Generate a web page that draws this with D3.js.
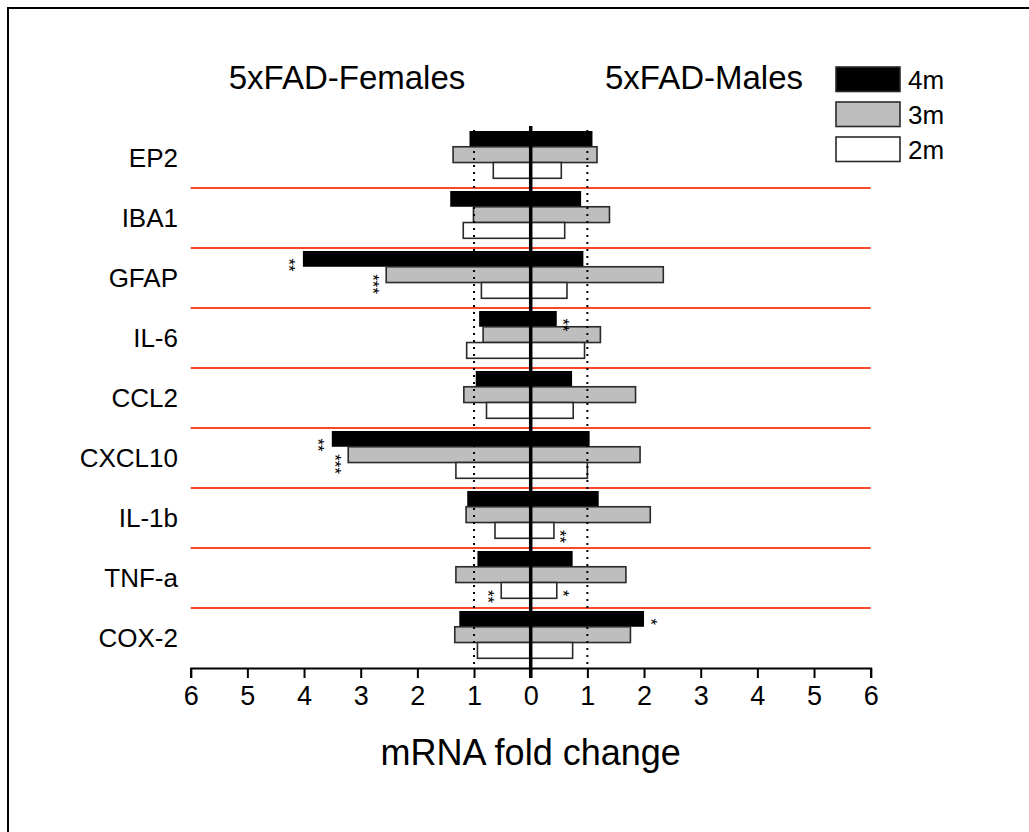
<!DOCTYPE html>
<html>
<head>
    <title></title>
    <script src="https://d3js.org/d3.v7.min.js" charset="utf-8"></script>
    <style>
        body { margin: 0; background: #fff; }
        text { font-family: "Liberation Sans", Arial, sans-serif; fill: #000; }
    </style>
</head>
<body>
<div id='chart'></div>
<script type="text/javascript">
    // genes, top to bottom
    var categories = ["EP2", "IBA1", "GFAP", "IL-6", "CCL2", "CXCL10", "IL-1b", "TNF-a", "COX-2"]
    var ages = ["4m", "3m", "2m"]
    var ageFill = {"4m": "#000", "3m": "#bebebe", "2m": "#fff"}

    // fold change (females are drawn to the left)
    var females4m = [1.08, 1.42, 4.02, 0.91, 0.97, 3.51, 1.12, 0.94, 1.26]
    var females3m = [1.37, 1.01, 2.55, 0.84, 1.18, 3.22, 1.14, 1.32, 1.34]
    var females2m = [0.66, 1.19, 0.87, 1.13, 0.78, 1.32, 0.63, 0.52, 0.94]
    var males4m = [1.09, 0.89, 0.93, 0.46, 0.73, 1.04, 1.20, 0.74, 2.00]
    var males3m = [1.17, 1.39, 2.34, 1.23, 1.85, 1.93, 2.11, 1.68, 1.76]
    var males2m = [0.54, 0.60, 0.64, 0.95, 0.75, 1.00, 0.41, 0.46, 0.74]

    var tickValues = [-6, -5, -4, -3, -2, -1, 0, 1, 2, 3, 4, 5, 6]

    // significance marks
    var stars = [
        {gene: "GFAP", age: "4m", sex: "F", mark: "**"},
        {gene: "GFAP", age: "3m", sex: "F", mark: "***"},
        {gene: "IL-6", age: "4m", sex: "M", mark: "**"},
        {gene: "CXCL10", age: "4m", sex: "F", mark: "**"},
        {gene: "CXCL10", age: "3m", sex: "F", mark: "***"},
        {gene: "IL-1b", age: "2m", sex: "M", mark: "**"},
        {gene: "TNF-a", age: "2m", sex: "F", mark: "**"},
        {gene: "TNF-a", age: "2m", sex: "M", mark: "*"},
        {gene: "COX-2", age: "4m", sex: "M", mark: "*"}
    ]

    var female = {"4m": females4m, "3m": females3m, "2m": females2m}
    var male = {"4m": males4m, "3m": males3m, "2m": males2m}

    var bars = []
    categories.forEach(function(g, i){
        ages.forEach(function(a){
            bars.push({gene: g, age: a, sex: "F", v: -female[a][i]})
            bars.push({gene: g, age: a, sex: "M", v: male[a][i]})
        })
    })

    var SVG = d3.select("#chart")
        .append("svg")
        .attr("width", 1029)
        .attr("height", 832)

    var x = d3.scaleLinear().domain([-6, 6]).range([190.7, 870.7])
    var y = d3.scaleBand().domain(categories).range([128, 668])
    var yAge = d3.scaleBand().domain(ages).range([3, 50.3])

    // frame
    SVG.append("path")
        .attr("d", "M8,832 V8 H1029")
        .style("fill", "none")
        .style("stroke", "#000")
        .style("stroke-width", 2)

    // red separators
    SVG.selectAll(".sep")
        .data(categories.slice(1))
        .enter().append("line")
        .attr("x1", x(-6)).attr("x2", x(6))
        .attr("y1", function(d){ return y(d) })
        .attr("y2", function(d){ return y(d) })
        .style("stroke", "#f7482a")
        .style("stroke-width", 2)

    // bars
    SVG.selectAll(".bar")
        .data(bars)
        .enter().append("rect")
        .attr("x", function(d){ return Math.min(x(0), x(d.v)) })
        .attr("width", function(d){ return Math.abs(x(d.v) - x(0)) })
        .attr("y", function(d){ return y(d.gene) + yAge(d.age) })
        .attr("height", yAge.bandwidth())
        .style("fill", function(d){ return ageFill[d.age] })
        .style("stroke", function(d){ return d.age == "4m" ? "none" : "#2a2a2a" })
        .style("stroke-width", 1.6)

    // dotted reference lines at 1
    SVG.selectAll(".ref")
        .data([-1, 1])
        .enter().append("line")
        .attr("x1", function(d){ return x(d) })
        .attr("x2", function(d){ return x(d) })
        .attr("y1", 130).attr("y2", 666)
        .style("stroke", "#000")
        .style("stroke-width", 2)
        .style("stroke-dasharray", "2,5")

    // zero line
    SVG.append("line")
        .attr("x1", x(0)).attr("x2", x(0))
        .attr("y1", 126).attr("y2", 678)
        .style("stroke", "#000")
        .style("stroke-width", 3.5)

    // stars, written sideways like the original
    stars.forEach(function(s){
        var i = categories.indexOf(s.gene)
        var v = s.sex == "F" ? -female[s.age][i] : male[s.age][i]
        var cy = y(s.gene) + yAge(s.age) + yAge.bandwidth() / 2
        var sx = x(v) + (s.sex == "F" ? -10 : 10)
        SVG.append("text")
            .attr("transform", "translate(" + (sx - 9.5) + "," + (cy - 0.5) + ") rotate(90)")
            .style("font-size", "17px")
            .text(s.mark)
    })

    // x axis
    var axis = SVG.append("g")
        .attr("transform", "translate(0,668)")
        .call(d3.axisBottom(x)
            .tickValues(tickValues)
            .tickSize(10)
            .tickPadding(8)
            .tickFormat(function(d){ return Math.abs(d) }))
    axis.select(".domain").style("stroke-width", 2)
    axis.selectAll(".tick line").style("stroke-width", 2)
    axis.selectAll(".tick text")
        .style("font-size", "27px")
        .style("font-family", "Liberation Sans, Arial, sans-serif")

    SVG.append("text")
        .attr("x", x(0))
        .attr("y", 765)
        .attr("text-anchor", "middle")
        .style("font-size", "36px")
        .text("mRNA fold change")

    // gene labels
    SVG.selectAll(".lab")
        .data(categories)
        .enter().append("text")
        .attr("x", 178)
        .attr("y", function(d){ return y(d) + y.bandwidth() / 2 + 9 })
        .attr("text-anchor", "end")
        .style("font-size", "26px")
        .text(function(d){ return d })

    // titles
    SVG.append("text").attr("x", 347).attr("y", 89).attr("text-anchor", "middle")
        .style("font-size", "33px").text("5xFAD-Females")
    SVG.append("text").attr("x", 704).attr("y", 89).attr("text-anchor", "middle")
        .style("font-size", "33px").text("5xFAD-Males")

    // legend
    var leg = SVG.selectAll(".leg")
        .data(ages)
        .enter().append("g")
        .attr("transform", function(d, i){ return "translate(836," + (67 + i * 35) + ")" })
    leg.append("rect")
        .attr("width", 64).attr("height", 24.5)
        .style("fill", function(d){ return ageFill[d] })
        .style("stroke", "#2a2a2a")
        .style("stroke-width", 1.6)
    leg.append("text")
        .attr("x", 72).attr("y", 22)
        .style("font-size", "26px")
        .text(function(d){ return d })
</script>
</body>
</html>
